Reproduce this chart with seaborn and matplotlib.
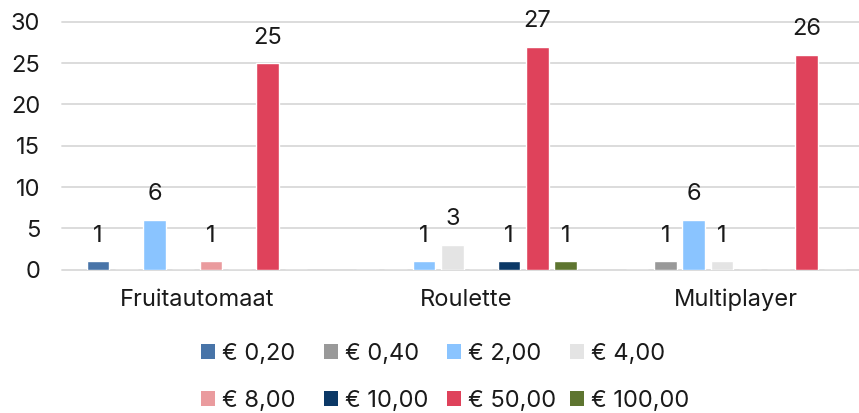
import numpy as np
import pandas as pd
import matplotlib
matplotlib.use("Agg")
import matplotlib.pyplot as plt
import seaborn as sns
from matplotlib.patches import Patch

categories = ["Fruitautomaat", "Roulette", "Multiplayer"]
series = ["€ 0,20", "€ 0,40", "€ 2,00", "€ 4,00", "€ 8,00", "€ 10,00", "€ 50,00", "€ 100,00"]
v_0_20 = [1, 0, 0]
v_0_40 = [0, 0, 1]
v_2_00 = [6, 1, 6]
v_4_00 = [0, 3, 1]
v_8_00 = [1, 0, 0]
v_10_00 = [0, 1, 0]
v_50_00 = [25, 27, 26]
v_100_00 = [0, 1, 0]
colors = ["#4874A8", "#999999", "#8AC4FF", "#E4E4E4", "#EA9B9E", "#0B3866", "#DF425B", "#5E7530"]
yticks = [0, 5, 10, 15, 20, 25, 30]

all_vals = [v_0_20, v_0_40, v_2_00, v_4_00, v_8_00, v_10_00, v_50_00, v_100_00]
rows = []
for s, vals in zip(series, all_vals):
    for c, v in zip(categories, vals):
        rows.append({"cat": c, "series": s, "val": v})
df = pd.DataFrame(rows)

sns.set_theme(style="white")
plt.rcParams['font.family'] = ['Inter', 'DejaVu Sans']
TXT = "#1a1a1a"
FS = 17

W, H = 859, 413
fig = plt.figure(figsize=(W / 100, H / 100), dpi=100)
ax = fig.add_axes([62.25 / W, (H - 269.5) / H, 808.5 / W, 247.5 / H])

sns.barplot(data=df, x="cat", y="val", hue="series", order=categories,
            hue_order=series, palette=colors, saturation=1, width=0.84,
            gap=0.2, legend=False, ax=ax, errorbar=None)

for cont in ax.containers:
    labs = [("%d" % b.get_height()) if b.get_height() > 0 else "" for b in cont]
    ax.bar_label(cont, labels=labs, padding=10.5, fontsize=FS, color=TXT)

ax.set_xlim(-0.5, 2.5)
ax.set_ylim(0, 30)
ax.set_yticks(yticks)
ax.set_xlabel("")
ax.set_ylabel("")
ax.yaxis.grid(True, color="#d9d9d9", linewidth=1.3, clip_on=False)
ax.set_axisbelow(True)
for sp in ax.spines.values():
    sp.set_visible(False)
ax.tick_params(axis="both", length=0, labelsize=FS, colors=TXT)
ax.tick_params(axis="y", pad=16)
ax.tick_params(axis="x", pad=14)

# legend: 4 columns at equal spacing, 2 rows
handles = [Patch(facecolor=c, edgecolor="none") for c in colors]
col_x = [201, 324, 447.5, 570]
for j, x in enumerate(col_x):
    leg = fig.legend([handles[j], handles[j + 4]], [series[j], series[j + 4]],
                     loc="center left", bbox_to_anchor=(x / W, (H - 377.5) / H),
                     ncol=1, frameon=False, handlelength=0.58, handleheight=0.58,
                     handletextpad=0.3, labelspacing=1.05, borderpad=0,
                     borderaxespad=0, fontsize=FS, labelcolor=TXT)

fig.savefig("out.png", dpi=100)
